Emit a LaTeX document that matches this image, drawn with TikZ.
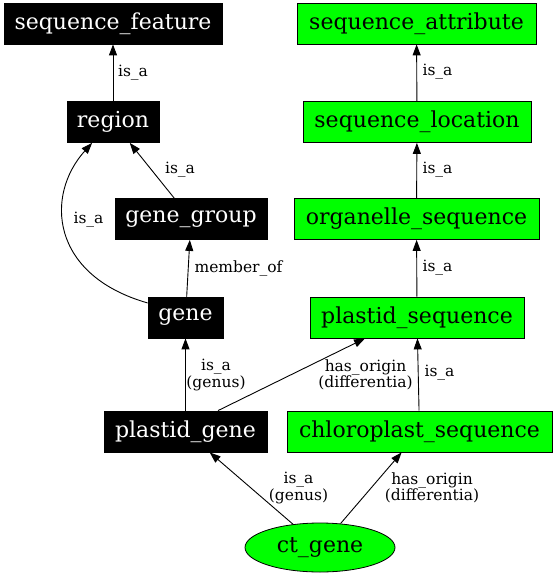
\documentclass[tikz,border=0pt]{standalone}
\usepackage{fontspec}
\setmainfont{DejaVu Serif}
\usetikzlibrary{arrows.meta,shapes.geometric}
\definecolor{ggreen}{RGB}{0,255,0}
\begin{document}
\begin{tikzpicture}[x=1pt,y=-1pt,
  base/.style={draw=black,line width=0.8pt,minimum height=41pt,inner sep=0pt,font=\fontsize{22}{25}\selectfont},
  blk/.style={base,fill=black,text=white},
  grn/.style={base,fill=ggreen,text=black},
  ell/.style={ellipse,draw=black,line width=0.8pt,fill=ggreen,minimum width=150pt,minimum height=49pt,inner sep=0pt,font=\fontsize{22}{25}\selectfont},
  elabel/.style={inner sep=0pt,align=center,font=\fontsize{15.5}{16.5}\selectfont},
  edge/.style={draw=black,line width=0.9pt,-{Triangle[length=11pt,width=8pt]}}]
\useasboundingbox (0,0) rectangle (556,576);
% nodes
\node[blk,minimum width=218pt] (sf) at (113,23.5) {sequence\_feature};
\node[blk,minimum width=92pt] (region) at (113,122) {region};
\node[blk,minimum width=152pt] (gg) at (191,219) {gene\_group};
\node[blk,minimum width=75pt] (gene) at (185.5,317.5) {gene};
\node[blk,minimum width=163pt] (pg) at (185.5,431.5) {plastid\_gene};
\node[grn,minimum width=239pt] (sa) at (416.5,23.5) {sequence\_attribute};
\node[grn,minimum width=228pt] (sl) at (417,122) {sequence\_location};
\node[grn,minimum width=245pt] (os) at (416.5,219) {organelle\_sequence};
\node[grn,minimum width=214pt] (ps) at (417,317.5) {plastid\_sequence};
\node[grn,minimum width=265pt] (cs) at (419.5,431.5) {chloroplast\_sequence};
\node[ell] (ct) at (320,547.5) {ct\_gene};
% edges
\draw[edge] (region) -- (sf);
\draw[edge] (gg) -- (region);
\draw[edge] (gene.159) .. controls (50,275) and (45,195) .. (region.-135);
\draw[edge] (gene) -- (gg);
\draw[edge] (pg) -- (gene);
\draw[edge] ([xshift=32.5pt]pg.north) -- ([xshift=-52pt]ps.south);
\draw[edge] (cs) -- (ps);
\draw[edge] (ps) -- (os);
\draw[edge] (os) -- (sl);
\draw[edge] (sl) -- (sa);
\draw[edge] (ct) -- (pg);
\draw[edge] (ct) -- (cs);
% labels
\node[elabel] (l1) at (133,73) {is\_a};
\node[elabel] (l2) at (180,170) {is\_a};
\node[elabel] (l3) at (88.5,220) {is\_a};
\node[elabel] (l4) at (238.5,268) {member\_of};
\node[elabel] (l5) at (216,375) {is\_a\\(genus)};
\node[elabel] (l6) at (365.5,375) {has\_origin\\(differentia)};
\node[elabel] (l7) at (439.5,373) {is\_a};
\node[elabel] (l8) at (298.5,488) {is\_a\\(genus)};
\node[elabel] (l9) at (432,488) {has\_origin\\(differentia)};
\node[elabel] (l10) at (437.5,268) {is\_a};
\node[elabel] (l11) at (437.5,170) {is\_a};
\node[elabel] (l12) at (437.5,72) {is\_a};
\end{tikzpicture}
\end{document}
